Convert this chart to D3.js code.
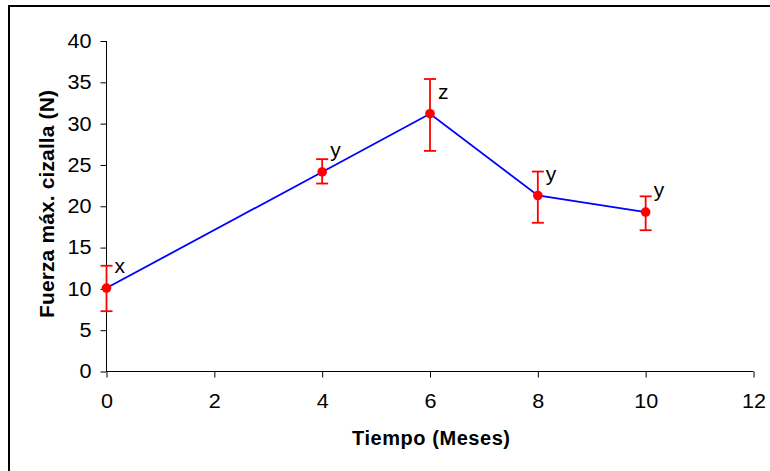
<!DOCTYPE html>
<html>
<head>
<meta charset="utf-8">
<script src="https://cdn.jsdelivr.net/npm/d3@7/dist/d3.min.js"></script>
<style>
  html, body { margin: 0; padding: 0; background: #fff; }
  svg { display: block; font-family: "Liberation Sans", Arial, sans-serif; }
</style>
</head>
<body>
<svg id="chart" width="770" height="471"></svg>
<script>
// Shear force over storage time: means, error bar limits and significance letters
const months   = [0, 4, 6, 8, 10];
const meanN    = [10.1, 24.15, 31.2, 21.3, 19.3];
const upperN   = [12.8, 25.7, 35.4, 24.2, 21.2];
const lowerN   = [7.3, 22.75, 26.7, 18.0, 17.1];
const groups   = ["x", "y", "z", "y", "y"];
const xTicks   = [0, 2, 4, 6, 8, 10, 12];
const yTicks   = [0, 5, 10, 15, 20, 25, 30, 35, 40];

const svg = d3.select("#chart");
const FONT = "Liberation Sans, Arial, sans-serif";

// outer frame
svg.append("rect")
  .attr("x", 9).attr("y", 6)
  .attr("width", 800).attr("height", 500)
  .attr("fill", "none").attr("stroke", "#000").attr("stroke-width", 2);

const x = d3.scaleLinear().domain([0, 12]).range([106.5, 753.5]);
const y = d3.scaleLinear().domain([0, 40]).range([371.5, 41]);

// widen tick labels slightly, as the chart's typeface runs broad
function widen(sel, factor) {
  sel.each(function () {
    const w = this.getComputedTextLength();
    d3.select(this).attr("textLength", w * factor).attr("lengthAdjust", "spacingAndGlyphs");
  });
}

// y axis
const yAxis = svg.append("g")
  .attr("transform", `translate(${x(0)},0)`)
  .call(d3.axisLeft(y).tickValues(yTicks).tickSize(6).tickPadding(9).tickFormat(d3.format("d")));
yAxis.select(".domain").attr("stroke", "#000").attr("d", `M0,${y(40)}V${y(0)}`);
yAxis.selectAll(".tick line").attr("stroke", "#000");
yAxis.selectAll(".tick text").attr("font-size", 20).attr("fill", "#000").attr("font-family", FONT)
  .call(widen, 1.08);

// x axis
const xAxis = svg.append("g")
  .attr("transform", `translate(0,${y(0)})`)
  .call(d3.axisBottom(x).tickValues(xTicks).tickSize(6).tickPadding(16).tickFormat(d3.format("d")));
xAxis.select(".domain").attr("stroke", "#000").attr("d", `M${x(0)},0H${x(12)}`);
xAxis.selectAll(".tick line").attr("stroke", "#000");
xAxis.selectAll(".tick text").attr("font-size", 20).attr("fill", "#000").attr("font-family", FONT)
  .call(widen, 1.08);

// axis titles
svg.append("text")
  .attr("x", 431).attr("y", 445)
  .attr("text-anchor", "middle")
  .attr("font-size", 20).attr("font-weight", "bold")
  .attr("textLength", 158).attr("lengthAdjust", "spacing")
  .text("Tiempo (Meses)");

svg.append("text")
  .attr("transform", "translate(54,204) rotate(-90)")
  .attr("text-anchor", "middle")
  .attr("font-size", 21).attr("font-weight", "bold")
  .attr("textLength", 228).attr("lengthAdjust", "spacing")
  .text("Fuerza máx. cizalla (N)");

const pts = months.map((m, i) => ({ m, mean: meanN[i], hi: upperN[i], lo: lowerN[i], g: groups[i] }));

// connecting line
svg.append("path")
  .datum(pts)
  .attr("fill", "none").attr("stroke", "#0000ff").attr("stroke-width", 1.8)
  .attr("d", d3.line().x(d => x(d.m)).y(d => y(d.mean)));

// error bars
const eb = svg.append("g").attr("stroke", "#ff0000").attr("stroke-width", 1.8);
pts.forEach(d => {
  eb.append("line").attr("x1", x(d.m)).attr("x2", x(d.m)).attr("y1", y(d.hi)).attr("y2", y(d.lo));
  eb.append("line").attr("x1", x(d.m) - 6).attr("x2", x(d.m) + 6).attr("y1", y(d.hi)).attr("y2", y(d.hi));
  eb.append("line").attr("x1", x(d.m) - 6).attr("x2", x(d.m) + 6).attr("y1", y(d.lo)).attr("y2", y(d.lo));
});

// mean markers
svg.append("g").selectAll("circle").data(pts).join("circle")
  .attr("cx", d => x(d.m)).attr("cy", d => y(d.mean)).attr("r", 4.8)
  .attr("fill", "#ff0000");

// significance letters
svg.append("g").selectAll("text").data(pts).join("text")
  .attr("x", d => x(d.m) + 8).attr("y", d => y(d.mean) - 15)
  .attr("font-size", 21).attr("fill", "#000").attr("font-family", FONT)
  .text(d => d.g);
</script>
</body>
</html>
